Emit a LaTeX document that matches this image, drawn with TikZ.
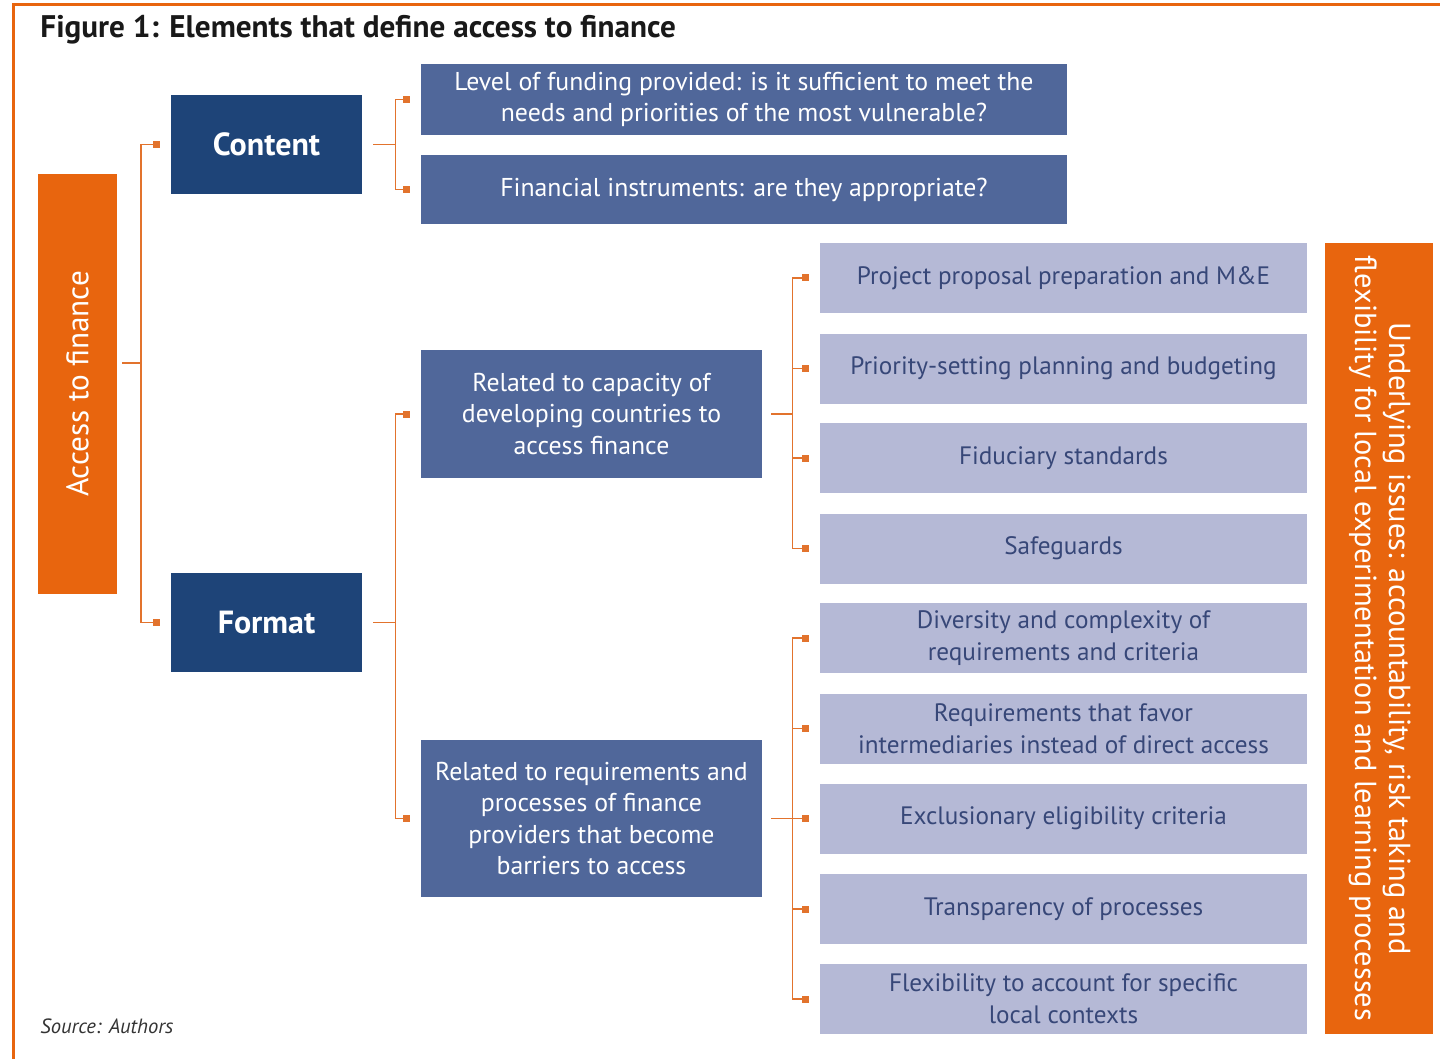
\documentclass[tikz,border=0pt]{standalone}
\usepackage{fontspec}
\setmainfont{PT Sans}
\usetikzlibrary{arrows.meta, calc, positioning}

\definecolor{accent}{RGB}{232,101,14}
\definecolor{wire}{RGB}{226,115,45}
\definecolor{navy}{RGB}{30,68,120}
\definecolor{midblue}{RGB}{80,103,154}
\definecolor{paleblue}{RGB}{181,185,214}
\definecolor{paletext}{RGB}{55,71,120}

\tikzset{
  mainbox/.style={fill=navy, text=white, inner sep=0pt, minimum width=95.5pt, minimum height=49.5pt, font=\bfseries\fontsize{16}{19}\selectfont},
  topicbox/.style={fill=midblue, text=white, inner sep=0pt, align=center, font=\fontsize{12.9}{15.6}\selectfont},
  itembox/.style={fill=paleblue, text=paletext, inner sep=0pt, align=center, minimum width=243.5pt, minimum height=35pt, font=\fontsize{12.6}{16}\selectfont},
  sidebar/.style={fill=accent, text=white, inner sep=0pt, align=center},
  link/.style={draw=wire, line width=0.7pt},
  tip/.style={-{Square[length=3.5pt,width=3.5pt]}, shorten >=5.5pt}
}

\begin{document}
\begin{tikzpicture}[x=0.5pt, y=-0.5pt]
\useasboundingbox (0,0) rectangle (1440,1059);

% frame and captions
\draw[accent, line width=1.5pt] (13,1059) -- (13,5) -- (1440,5);
\node[anchor=west, inner sep=0pt, text=black!90, font=\bfseries\fontsize{15.6}{18}\selectfont] (title) at (40,30) {Figure 1: Elements that define access to finance};
\node[anchor=west, inner sep=0pt, text=black!80, font=\itshape\fontsize{10.3}{12}\selectfont] (source) at (40,1026) {Source: Authors};

% side bars
\node[sidebar, minimum width=39.5pt, minimum height=210pt] (access) at (77.5,384)
  {\rotatebox{90}{\fontsize{15.6}{18}\selectfont Access to finance}};
\node[sidebar, minimum width=54pt, minimum height=395.5pt] (issues) at (1379,638.5)
  {\rotatebox{-90}{\fontsize{15.2}{17}\selectfont\begin{tabular}{@{}c@{}}Underlying issues: accountability, risk taking and\\ flexibility for local experimentation and learning processes\end{tabular}}};

% first level
\node[mainbox] (content) at (266.5,144.5) {Content};
\node[mainbox] (format) at (266.5,622.5) {Format};

% second level
\node[topicbox, minimum width=323pt, minimum height=35.5pt] (fund) at (744,99.5)
  {Level of funding provided: is it sufficient to meet the\\ needs and priorities of the most vulnerable?};
\node[topicbox, minimum width=323pt, minimum height=34.5pt] (instr) at (744,189.5)
  {Financial instruments: are they appropriate?};
\node[topicbox, minimum width=170.5pt, minimum height=64pt] (capacity) at (591.5,414)
  {Related to capacity of\\ developing countries to\\ access finance};
\node[topicbox, minimum width=170.5pt, minimum height=78.5pt] (reqs) at (591.5,818.5)
  {Related to requirements and\\ processes of finance\\ providers that become\\ barriers to access};

% third level
\node[itembox] (proposal) at (1063.5,278) {Project proposal preparation and M\&E};
\node[itembox] (priority) at (1063.5,368.5) {Priority-setting planning and budgeting};
\node[itembox] (fiduciary) at (1063.5,458) {Fiduciary standards};
\node[itembox] (safeguards) at (1063.5,548.5) {Safeguards};
\node[itembox] (diversity) at (1063.5,638) {Diversity and complexity of\\ requirements and criteria};
\node[itembox] (favor) at (1063.5,728.5) {Requirements that favor\\ intermediaries instead of direct access};
\node[itembox] (eligibility) at (1063.5,818.5) {Exclusionary eligibility criteria};
\node[itembox] (transparency) at (1063.5,909) {Transparency of processes};
\node[itembox] (flexibility) at (1063.5,999) {Flexibility to account for specific\\ local contexts};

% brackets
\coordinate (accfork) at (141,363);
\draw[link, shorten <=2.5pt] (access.east |- accfork) -- (accfork);
\draw[link, tip] (accfork) |- (content.west);
\draw[link, tip] (accfork) |- (format.west);

\coordinate (confork) at ($(content.east)+(33,0)$);
\draw[link, shorten <=5.5pt] (content.east) -- (confork);
\draw[link, tip] (confork) |- (fund.west);
\draw[link, tip] (confork) |- (instr.west);

\coordinate (fmtfork) at ($(format.east)+(33,0)$);
\draw[link, shorten <=5.5pt] (format.east) -- (fmtfork);
\draw[link, tip] (fmtfork) |- (capacity.west);
\draw[link, tip] (fmtfork) |- (reqs.west);

\coordinate (capfork) at ($(capacity.east)+(30,0)$);
\draw[link, shorten <=4.5pt] (capacity.east) -- (capfork);
\foreach \n in {proposal, priority, fiduciary, safeguards}
  \draw[link, tip] (capfork) |- (\n.west);

\coordinate (reqfork) at ($(reqs.east)+(30,0)$);
\draw[link, shorten <=4.5pt] (reqs.east) -- (reqfork);
\foreach \n in {diversity, favor, eligibility, transparency, flexibility}
  \draw[link, tip] (reqfork) |- (\n.west);

\end{tikzpicture}
\end{document}
